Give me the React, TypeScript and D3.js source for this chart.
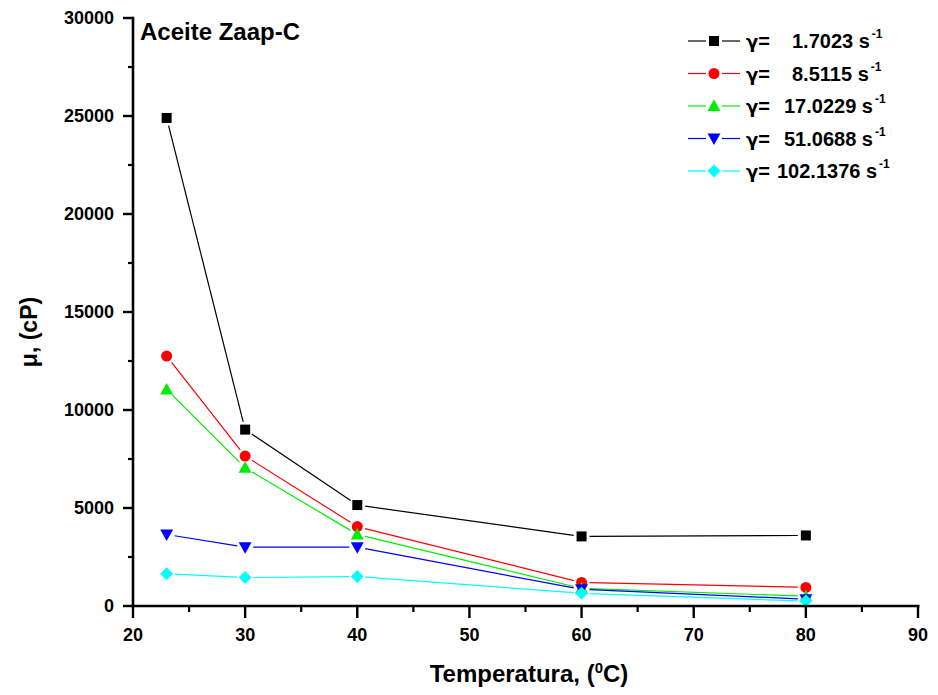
import React from "react";
import * as d3 from "d3";

const temps = [23, 30, 40, 60, 80];
const seriesNames = ["1.7023", "8.5115", "17.0229", "51.0688", "102.1376"];
const seriesColors = ["#000000", "#ff0000", "#00ee00", "#0000ff", "#00ffff"];
const seriesShapes = ["square", "circle", "triangle", "triangleDown", "diamond"];
const v1 = [24900, 9000, 5150, 3550, 3600];
const v2 = [12750, 7650, 4050, 1200, 950];
const v3 = [11050, 7050, 3650, 900, 500];
const v4 = [3650, 3000, 3000, 850, 350];
const v5 = [1650, 1450, 1500, 650, 250];
const seriesValues = [v1, v2, v3, v4, v5];
const xTicks = [20, 30, 40, 50, 60, 70, 80, 90];
const xMinor = [25, 35, 45, 55, 65, 75, 85];
const yTicks = [0, 5000, 10000, 15000, 20000, 25000, 30000];
const yMinor = [2500, 7500, 12500, 17500, 22500, 27500];

const W = 938;
const H = 695;
const L = 133, R = 918, T = 18, B = 606;
const FONT = "'Liberation Sans', Arial, sans-serif";
const legendValueX = [792, 792, 784, 784, 777];

function Marker({ shape, x, y, color }: { shape: string; x: number; y: number; color: string }) {
  if (shape === "square") return <rect x={x - 5} y={y - 5} width={10} height={10} fill={color} />;
  if (shape === "circle") return <circle cx={x} cy={y} r={5.5} fill={color} />;
  if (shape === "triangle")
    return <path d={`M${x},${y - 6.5} L${x + 6.5},${y + 5} L${x - 6.5},${y + 5} Z`} fill={color} />;
  if (shape === "triangleDown")
    return <path d={`M${x},${y + 6.5} L${x + 6.5},${y - 5} L${x - 6.5},${y - 5} Z`} fill={color} />;
  return <path d={`M${x},${y - 6.5} L${x + 6.5},${y} L${x},${y + 6.5} L${x - 6.5},${y} Z`} fill={color} />;
}

export default function App() {
  const x = d3.scaleLinear().domain([20, 90]).range([L, R]);
  const y = d3.scaleLinear().domain([0, 30000]).range([B, T]);
  const gap = 8;

  const segs = (vals: number[]) => {
    const out: { x1: number; y1: number; x2: number; y2: number }[] = [];
    for (let i = 0; i < vals.length - 1; i++) {
      const ax = x(temps[i]), ay = y(vals[i]);
      const bx = x(temps[i + 1]), by = y(vals[i + 1]);
      const len = Math.hypot(bx - ax, by - ay);
      if (len <= 2 * gap) continue;
      const ux = (bx - ax) / len, uy = (by - ay) / len;
      out.push({ x1: ax + ux * gap, y1: ay + uy * gap, x2: bx - ux * gap, y2: by - uy * gap });
    }
    return out;
  };

  const legX = 688;
  const legY0 = 41;
  const legDY = 32.5;

  return (
    <svg width={W} height={H} style={{ position: "absolute", left: 0, top: 0, background: "#fff" }} fontFamily={FONT}>
      <rect x={0} y={0} width={W} height={H} fill="#fff" />
      {seriesValues.map((vals, si) => (
        <g key={si}>
          {segs(vals).map((s, k) => (
            <line key={k} x1={s.x1} y1={s.y1} x2={s.x2} y2={s.y2} stroke={seriesColors[si]} strokeWidth={1.2} />
          ))}
        </g>
      ))}
      {seriesValues.map((vals, si) => (
        <g key={"m" + si}>
          {vals.map((v, k) => (
            <Marker key={k} shape={seriesShapes[si]} x={x(temps[k])} y={y(v)} color={seriesColors[si]} />
          ))}
        </g>
      ))}
      <line x1={L} y1={B} x2={R + 1.5} y2={B} stroke="#000" strokeWidth={2.6} />
      <line x1={L} y1={B + 1.3} x2={L} y2={T - 1.3} stroke="#000" strokeWidth={2.6} />
      {xTicks.map((t) => (
        <g key={"xt" + t}>
          <line x1={x(t)} y1={B} x2={x(t)} y2={B + 12} stroke="#000" strokeWidth={2.4} />
          <text x={x(t)} y={641} textAnchor="middle" fontSize={18} fontWeight="bold">{t}</text>
        </g>
      ))}
      {xMinor.map((t) => (
        <line key={"xm" + t} x1={x(t)} y1={B} x2={x(t)} y2={B + 6} stroke="#000" strokeWidth={2.2} />
      ))}
      {yTicks.map((t) => (
        <g key={"yt" + t}>
          <line x1={L} y1={y(t)} x2={L - 10} y2={y(t)} stroke="#000" strokeWidth={2.4} />
          <text x={114} y={y(t) + 6} textAnchor="end" fontSize={18} fontWeight="bold">{t}</text>
        </g>
      ))}
      {yMinor.map((t) => (
        <line key={"ym" + t} x1={L} y1={y(t)} x2={L - 5} y2={y(t)} stroke="#000" strokeWidth={2.2} />
      ))}
      <text x={529} y={682} textAnchor="middle" fontSize={24} fontWeight="bold">
        Temperatura, (<tspan fontSize={15} dy={-9}>0</tspan><tspan dy={9}>C)</tspan>
      </text>
      <text transform={`translate(37,332) rotate(-90)`} textAnchor="middle" fontSize={23} fontWeight="bold">μ, (cP)</text>
      <text x={140} y={40} fontSize={24} fontWeight="bold">Aceite Zaap-C</text>
      {seriesNames.map((n, i) => {
        const cy = legY0 + i * legDY;
        return (
          <g key={"lg" + i}>
            <line x1={legX} y1={cy} x2={legX + 18} y2={cy} stroke={seriesColors[i]} strokeWidth={1.2} />
            <line x1={legX + 34} y1={cy} x2={legX + 52} y2={cy} stroke={seriesColors[i]} strokeWidth={1.2} />
            <Marker shape={seriesShapes[i]} x={legX + 26} y={cy} color={seriesColors[i]} />
            <text x={746} y={cy + 7} fontSize={20} fontWeight="bold">
              <tspan fontFamily="'DejaVu Sans', sans-serif" fontSize={18}>γ</tspan>
              <tspan>=</tspan>
              <tspan x={legendValueX[i]}>{n} s</tspan>
              <tspan fontSize={12} dy={-10} dx={2}>-1</tspan>
            </text>
          </g>
        );
      })}
    </svg>
  );
}
